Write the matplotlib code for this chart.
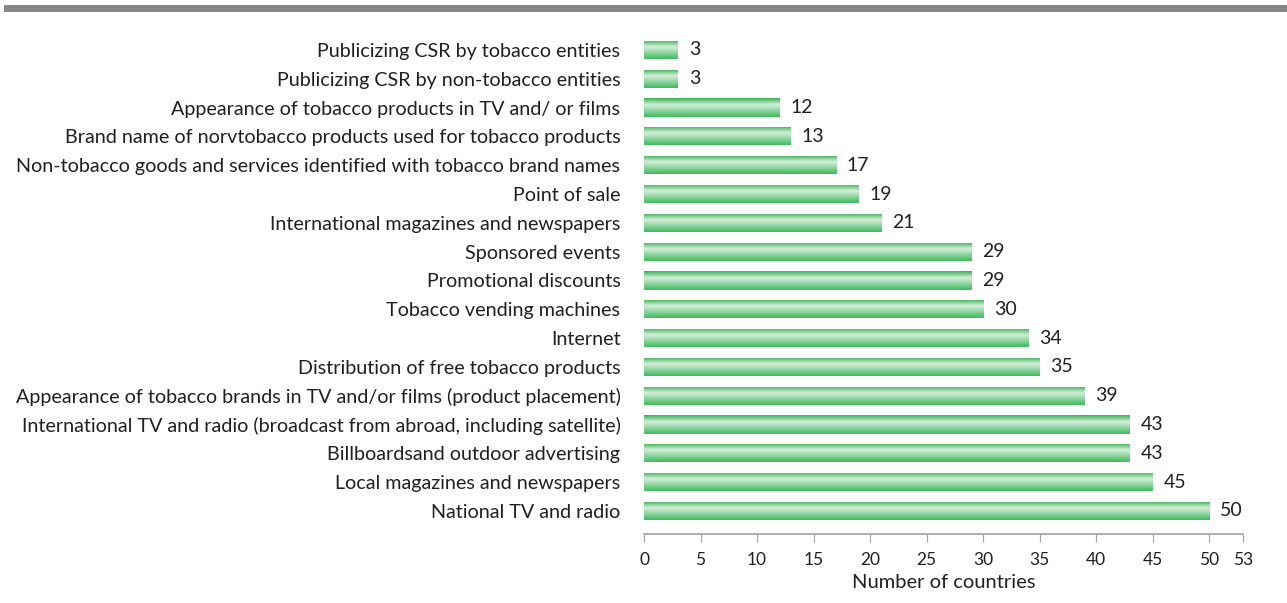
import numpy as np
import matplotlib
matplotlib.use("Agg")
from matplotlib import pyplot as plt
from matplotlib.colors import LinearSegmentedColormap

categories = [
    "Publicizing CSR by tobacco entities",
    "Publicizing CSR by non-tobacco entities",
    "Appearance of tobacco products in TV and/ or films",
    "Brand name of norvtobacco products used for tobacco products",
    "Non-tobacco goods and services identified with tobacco brand names",
    "Point of sale",
    "International magazines and newspapers",
    "Sponsored events",
    "Promotional discounts",
    "Tobacco vending machines",
    "Internet",
    "Distribution of free tobacco products",
    "Appearance of tobacco brands in TV and/or films (product placement)",
    "International TV and radio (broadcast from abroad, including satellite)",
    "Billboardsand outdoor advertising",
    "Local magazines and newspapers",
    "National TV and radio",
]
counts = [3, 3, 12, 13, 17, 19, 21, 29, 29, 30, 34, 35, 39, 43, 43, 45, 50]
xticks = [0, 5, 10, 15, 20, 25, 30, 35, 40, 45, 50, 53]

plt.rcParams['font.family'] = ['Lato', 'DejaVu Sans']
txt = '#231f20'

fig = plt.figure(figsize=(12.87, 6.03), dpi=100)
# grey band across the top
fig.add_artist(plt.Rectangle((0.003, 1 - 12 / 603), 0.997, 7 / 603,
                             transform=fig.transFigure, color='#87878a', lw=0))

ax = fig.add_axes([0.5004, 0.1144, 0.4654, 0.841])
y = np.arange(len(categories))
bars = ax.barh(y, counts, height=0.63, color='none', edgecolor='none')

# green bars shaded light in the middle, darker at the edges
cmap = LinearSegmentedColormap.from_list('g', [
    (0.0, '#3aaf55'), (0.35, '#d4efda'), (0.55, '#a9deb6'), (1.0, '#3dba5e')])
grad = np.linspace(0, 1, 64).reshape(-1, 1)
for b in bars:
    x0, y0, w, h = b.get_x(), b.get_y(), b.get_width(), b.get_height()
    im = ax.imshow(grad, cmap=cmap, aspect='auto', extent=[x0, x0 + w, y0 + h, y0],
                   interpolation='bicubic', zorder=2)
    im.set_clip_path(b)

for yi, v in zip(y, counts):
    ax.text(v + 0.95, yi, str(v), va='center', ha='left', fontsize=14, color=txt)

ax.set_xlim(0, 53)
ax.set_ylim(len(categories) - 0.2, -0.8)
ax.set_yticks(y)
ax.set_yticklabels(categories, fontsize=14.2, color=txt)
ax.tick_params(axis='y', length=0, pad=17)
ax.set_xticks(xticks)
ax.set_xticklabels([str(t) for t in xticks], fontsize=12.5, color=txt)
ax.tick_params(axis='x', direction='out', length=6, color='#a0a0a0', pad=7)
ax.set_xlabel('Number of countries', fontsize=14.5, color=txt, labelpad=4)

for s in ['top', 'right', 'left']:
    ax.spines[s].set_visible(False)
ax.spines['bottom'].set_color('#a0a0a0')
ax.spines['bottom'].set_linewidth(1.2)

fig.savefig('out.png', dpi=100)
